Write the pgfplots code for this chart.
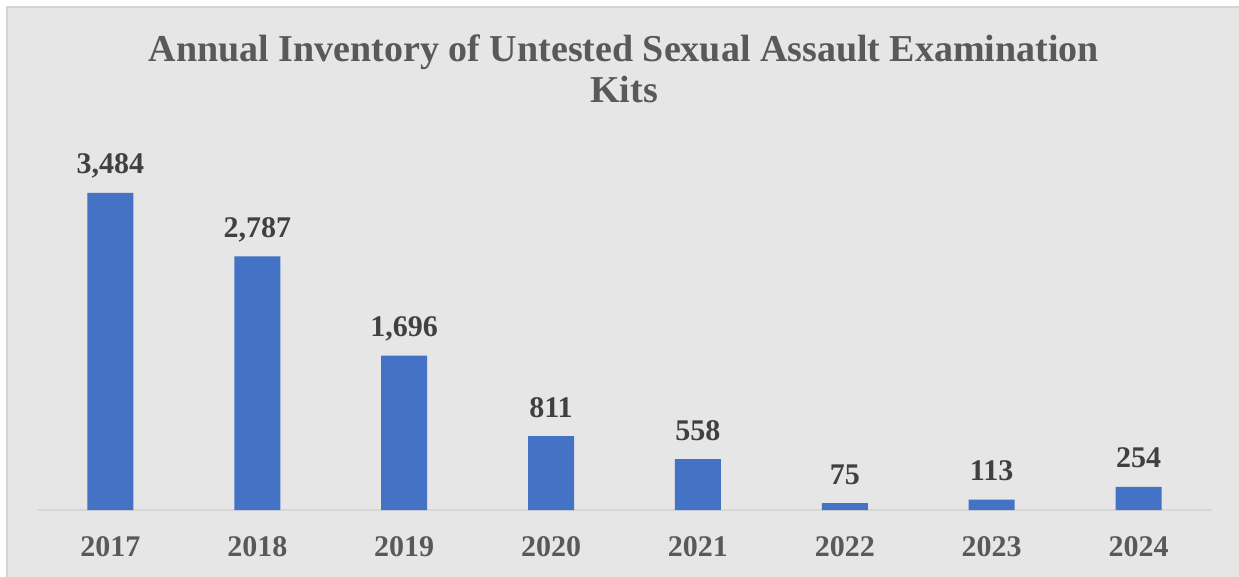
\documentclass[border=0pt]{standalone}
\usepackage{pgfplots}
\pgfplotsset{compat=1.18}
\usepackage{fontspec}
\setmainfont{Liberation Serif}

\definecolor{bggray}{HTML}{E6E6E6}
\definecolor{bordergray}{HTML}{D4D4D4}
\definecolor{axisgray}{HTML}{D6D6D6}
\definecolor{barblue}{HTML}{4472C4}
\definecolor{ticktext}{HTML}{595959}
\definecolor{labeltext}{HTML}{404040}

\begin{document}
\begin{tikzpicture}
\useasboundingbox (0,0) rectangle (1239pt,-577pt);
\fill[white] (0,0) rectangle (1239pt,-577pt);
\fill[bggray] (7pt,-7pt) rectangle (1239pt,-577pt);
\draw[bordergray, line width=1.5pt] (7pt,-577pt) -- (7pt,-7pt) -- (1239pt,-7pt);

\begin{axis}[
    at={(37pt,-510pt)}, anchor=south west,
    scale only axis,
    width=1175pt, height=364pt,
    ybar, bar width=46pt,
    xmin=-0.5, xmax=7.5,
    ymin=0, ymax=4000,
    axis x line*=bottom,
    axis y line=none,
    x axis line style={draw=axisgray, line width=1.2pt, -},
    xtick={0,...,7},
    xticklabels={2017,2018,2019,2020,2021,2022,2023,2024},
    major tick length=0pt,
    xticklabel style={anchor=base, yshift=-46pt, text=ticktext,
        font=\fontsize{30}{36}\selectfont\bfseries},
    ymajorticks=false,
    nodes near coords={\pgfmathprintnumber[assume math mode=true, 1000 sep={,}]{\pgfplotspointmeta}},
    nodes near coords style={anchor=base, yshift=19pt, text=labeltext,
        font=\fontsize{30}{36}\selectfont\bfseries},
    clip=false,
]
\addplot[fill=barblue, draw=none] coordinates {
    (0,3484) (1,2787) (2,1696) (3,811) (4,558) (5,75) (6,113) (7,254)
};
\end{axis}

\node[anchor=base, text=ticktext, font=\fontsize{38}{46}\selectfont\bfseries]
    at (624pt,-62pt) {Annual Inventory of Untested Sexual Assault Examination};
\node[anchor=base, text=ticktext, font=\fontsize{38}{46}\selectfont\bfseries]
    at (624pt,-103pt) {Kits};
\end{tikzpicture}
\end{document}
